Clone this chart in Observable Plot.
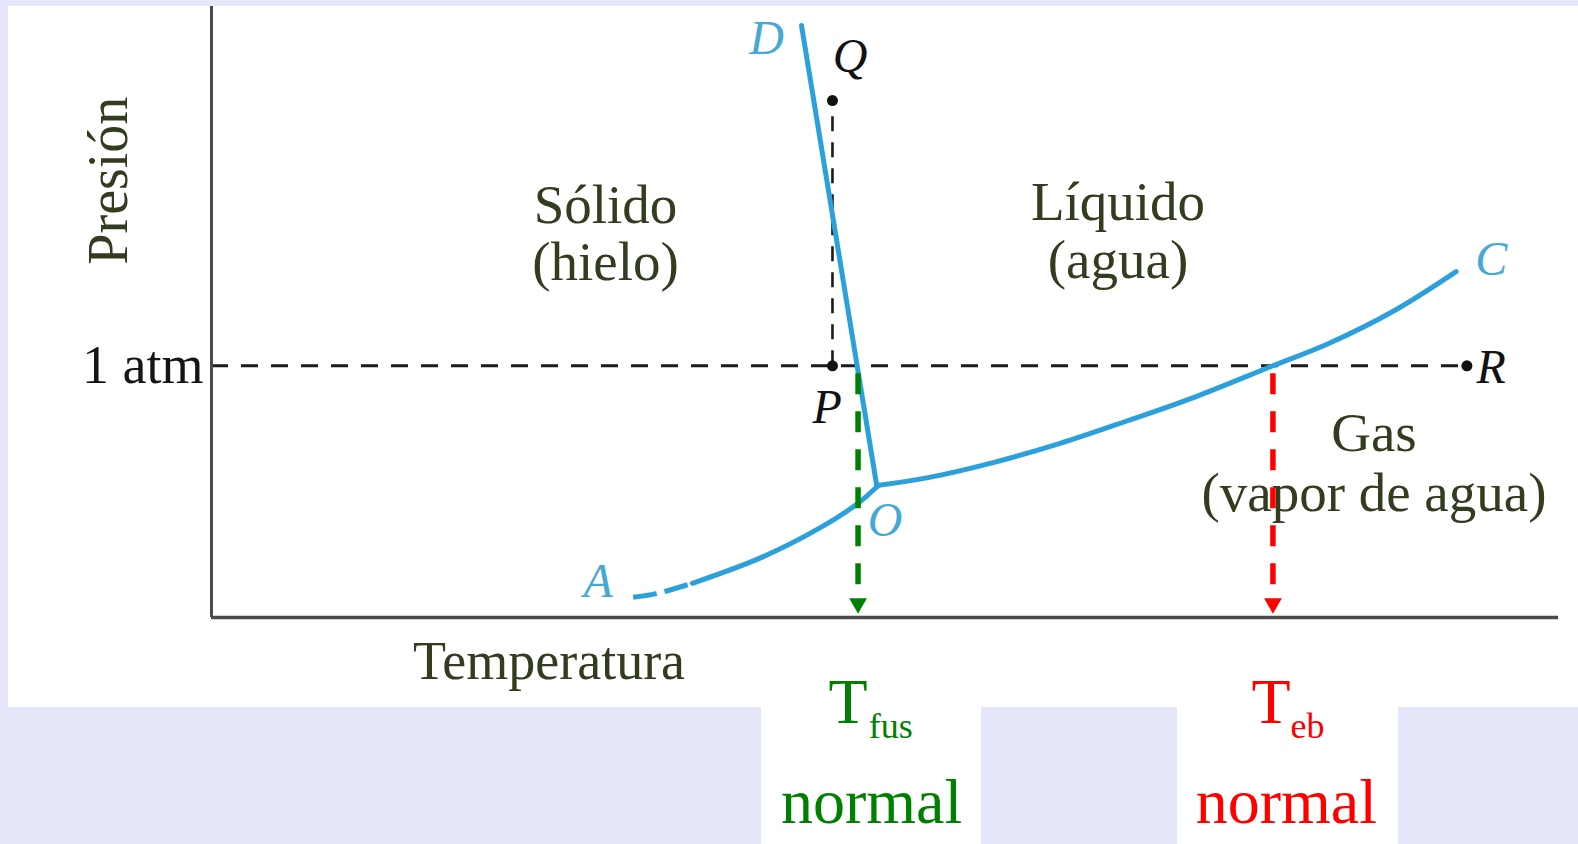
<!DOCTYPE html>
<html><head><meta charset="utf-8">
<script src="https://cdn.jsdelivr.net/npm/d3@7"></script>
<script src="https://cdn.jsdelivr.net/npm/@observablehq/plot@0.6"></script>
<style>
html,body{margin:0;padding:0;background:#e6e6fa;width:1578px;height:844px;overflow:hidden;position:relative}
.panel{position:absolute;background:#fff}
#chart{position:absolute;left:0;top:0}
</style></head><body>
<div class="panel" style="left:8px;top:6px;width:1570px;height:701px"></div>
<div class="panel" style="left:761px;top:707px;width:220px;height:137px"></div>
<div class="panel" style="left:1177px;top:707px;width:221px;height:137px"></div>
<div id="chart"></div>
<script>
// Phase diagram of water (arbitrary units: temperature t, pressure p, 0–100)
const atm = 41.2;
const fusionLine = [{t: 43.8, p: 96.9}, {t: 49.4, p: 21.4}];
const sublimationDashed = [{t: 31.3, p: 3.3}, {t: 33.0, p: 3.9}, {t: 35.7, p: 5.6}];
const sublimationSolid = [{t: 35.7, p: 5.6}, {t: 40.8, p: 9.8}, {t: 45.2, p: 14.7}, {t: 48.0, p: 18.7}, {t: 49.4, p: 21.4}];
const vaporization = [
  {t: 49.4, p: 21.6}, {t: 53.2, p: 22.9}, {t: 58.1, p: 25.4}, {t: 63.0, p: 28.5},
  {t: 68.0, p: 32.2}, {t: 72.9, p: 36.0}, {t: 78.8, p: 41.2}, {t: 82.9, p: 44.8},
  {t: 87.8, p: 50.2}, {t: 92.4, p: 56.6}
];
const points = [{name: "P", t: 46.1, p: 41.2}, {name: "Q", t: 46.1, p: 84.6}, {name: "R", t: 93.2, p: 41.2}];
const Tfus = 48.0, Teb = 78.8;
const regionLabels = [
  {text: "Sólido", t: 29.25, p: 64.5},
  {text: "(hielo)", t: 29.25, p: 55.2},
  {text: "Líquido", t: 67.3, p: 65.1},
  {text: "(agua)", t: 67.3, p: 55.6},
  {text: "Gas", t: 86.3, p: 27.3},
  {text: "(vapor de agua)", t: 86.3, p: 17.5}
];
const curveLetters = [
  {text: "D", t: 41.2, p: 92.3}, {text: "A", t: 28.7, p: 3.3},
  {text: "O", t: 50.0, p: 13.4}, {text: "C", t: 95.0, p: 56.0}
];
const pointLetters = [
  {text: "Q", t: 47.4, p: 89.2}, {text: "P", t: 45.7, p: 31.9}, {text: "R", t: 95.0, p: 38.3}
];
const tempMain = [{text: "T", t: 47.25, p: -17.3, c: "fus"}, {text: "T", t: 78.66, p: -17.3, c: "eb"}];
const tempSub = [{text: "fus", t: 48.8, p: -19.8, c: "fus"}, {text: "eb", t: 80.1, p: -19.8, c: "eb"}];
const tempNormal = [{text: "normal", t: 49.0, p: -33.6, c: "fus"}, {text: "normal", t: 79.8, p: -33.6, c: "eb"}];
const arrows = [{t: Tfus, c: "fus"}, {t: Teb, c: "eb"}];

const serif = "'Liberation Serif', 'Times New Roman', serif";
const textCol = "#323c1e";
const blue = "#2ba0da";
const blueLetter = "#45a9d3";
const colorOf = c => c === "fus" ? "#008000" : "#ff0000";

const chart = Plot.plot({
  width: 1578, height: 844,
  marginLeft: 211, marginRight: 20, marginTop: 6, marginBottom: 227,
  x: {domain: [0, 100], axis: null},
  y: {domain: [0, 100]},
  style: {background: "transparent", overflow: "visible", fontFamily: serif},
  marks: [
    Plot.axisY([atm], {tickSize: 0, tickPadding: 8, tickFormat: () => "1 atm", fontSize: 54, fill: "#151515", label: null, fontFamily: serif}),
    Plot.ruleY([atm], {x1: 0, x2: points[2].t, stroke: "#1a1a1a", strokeWidth: 2.8, strokeDasharray: "17,13"}),
    Plot.ruleX([points[0].t], {y1: atm, y2: points[1].p, stroke: "#1a1a1a", strokeWidth: 2.6, strokeDasharray: "15,11"}),
    Plot.line(fusionLine, {x: "t", y: "p", stroke: blue, strokeWidth: 5}),
    Plot.line(sublimationSolid, {x: "t", y: "p", stroke: blue, strokeWidth: 5, curve: "catmull-rom"}),
    Plot.line(sublimationDashed, {x: "t", y: "p", stroke: blue, strokeWidth: 5, curve: "catmull-rom", strokeDasharray: "24,8", strokeLinecap: "butt"}),
    Plot.line(vaporization, {x: "t", y: "p", stroke: blue, strokeWidth: 5, curve: "catmull-rom"}),
    Plot.ruleX([Tfus], {y1: 39.9, y2: 3.1, stroke: "#008000", strokeWidth: 5.5, strokeDasharray: "21,17"}),
    Plot.ruleX([Teb], {y1: 39.9, y2: 3.1, stroke: "#ff0000", strokeWidth: 5.5, strokeDasharray: "21,17"}),
    Plot.dot(arrows, {x: "t", y: 2.3, symbol: "triangle", rotate: 180, r: 6.6, fill: d => colorOf(d.c), stroke: null}),
    Plot.dot(points, {x: "t", y: "p", r: 5.5, fill: "#111", stroke: null}),
    Plot.ruleX([0], {stroke: "#4a4a4a", strokeWidth: 3}),
    Plot.ruleY([0], {stroke: "#4a4a4a", strokeWidth: 3.5}),
    Plot.text(regionLabels, {x: "t", y: "p", text: "text", fontSize: 55, fill: textCol, lineAnchor: "bottom", fontFamily: serif}),
    Plot.text(["Temperatura"], {x: 25.06, y: -10.1, text: d => d, fontSize: 54, fill: textCol, lineAnchor: "bottom", fontFamily: serif}),
    Plot.text(["Presión"], {x: -6.3, y: 71.5, text: d => d, fontSize: 56, rotate: -90, fill: textCol, lineAnchor: "bottom", fontFamily: serif}),
    Plot.text(curveLetters, {x: "t", y: "p", text: "text", fontSize: 48, fontStyle: "italic", fill: blueLetter, lineAnchor: "bottom", fontFamily: serif}),
    Plot.text(pointLetters, {x: "t", y: "p", text: "text", fontSize: 48, fontStyle: "italic", fill: "#111", lineAnchor: "bottom", fontFamily: serif}),
    Plot.text(tempMain, {x: "t", y: "p", text: "text", fontSize: 64, fill: d => colorOf(d.c), lineAnchor: "bottom", fontFamily: serif}),
    Plot.text(tempSub, {x: "t", y: "p", text: "text", fontSize: 36, fill: d => colorOf(d.c), textAnchor: "start", lineAnchor: "bottom", fontFamily: serif}),
    Plot.text(tempNormal, {x: "t", y: "p", text: "text", fontSize: 64, fill: d => colorOf(d.c), lineAnchor: "bottom", fontFamily: serif})
  ]
});
document.getElementById("chart").appendChild(chart);
</script>
</body></html>
